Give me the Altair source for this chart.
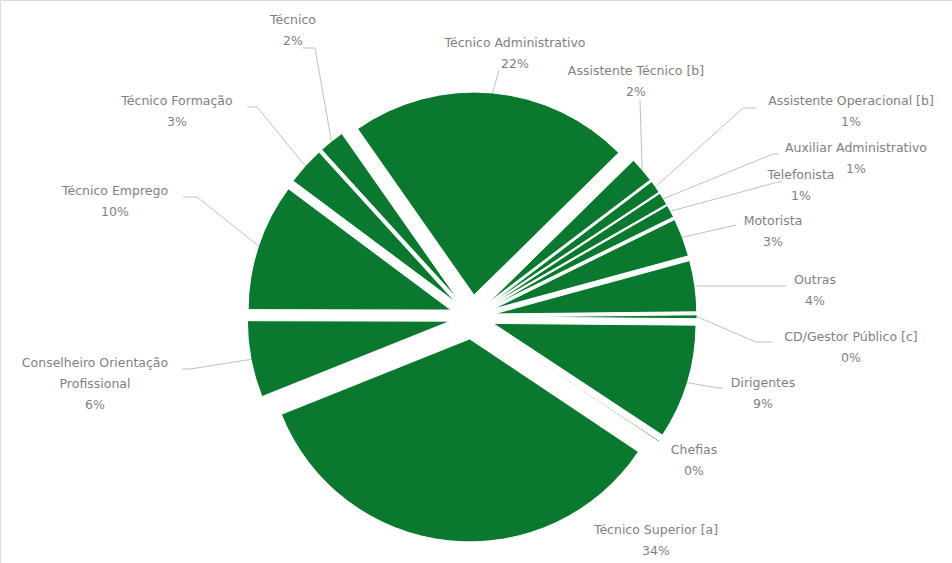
import math
import altair as alt
import pandas as pd

# ---- data (clockwise from the top) ----
categories = [
    "Técnico Administrativo", "Assistente Técnico [b]", "Assistente Operacional [b]",
    "Auxiliar Administrativo", "Telefonista", "Motorista", "Outras",
    "CD/Gestor Público [c]", "Dirigentes", "Chefias", "Técnico Superior [a]",
    "Conselheiro Orientação Profissional", "Técnico Emprego", "Técnico Formação", "Técnico",
]
label_names = [
    "Técnico Administrativo", "Assistente Técnico [b]", "Assistente Operacional [b]",
    "Auxiliar Administrativo", "Telefonista", "Motorista", "Outras",
    "CD/Gestor Público [c]", "Dirigentes", "Chefias", "Técnico Superior [a]",
    "Conselheiro Orientação\nProfissional", "Técnico Emprego", "Técnico Formação", "Técnico",
]
shares = [22, 2, 1, 1, 1, 3, 4, 0.3, 9, 0.1, 34, 6, 10, 3, 2]
pct_labels = ["22%", "2%", "1%", "1%", "1%", "3%", "4%", "0%", "9%", "0%", "34%", "6%", "10%", "3%", "2%"]

# ---- layout / style ----
W, H = 952, 563
CX, CY = 472, 317          # pie centre (pixels, identity scales)
RADIUS = 203
EXPLODE = 22
START_DEG = -35
GREEN = "#0a782e"
TEXT_GRAY = "#7f7f7f"
LINE_GRAY = "#c0c0c0"

# first-line centre of label (tx, ty), leader elbow (bx, by), horizontal hook length
LABEL_LAYOUT = {
    "Técnico Administrativo": (515, 43, 499, 70, 0),
    "Assistente Técnico [b]": (636, 71, 640, 100, 0),
    "Assistente Operacional [b]": (851, 101, 743, 108, 13),
    "Auxiliar Administrativo": (856, 148, 773, 154, 6),
    "Telefonista": (801, 175, 778, 182, 4),
    "Motorista": (773, 221, 736, 225, 0),
    "Outras": (815, 280, 786, 286, 0),
    "CD/Gestor Público [c]": (851, 337, 756, 342, 16),
    "Dirigentes": (763, 383, 718, 388, 5),
    "Chefias": (694, 450, None, None, 0),
    "Técnico Superior [a]": (656, 530, None, None, 0),
    "Conselheiro Orientação Profissional": (95, 363, 190, 369, -8),
    "Técnico Emprego": (115, 191, 197, 197, -14),
    "Técnico Formação": (177, 101, 257, 107, -10),
    "Técnico": (293, 20, 315, 48, -12),
}

total = sum(shares)
rows = []
cum = 0.0
for cat, name, v, pct in zip(categories, label_names, shares, pct_labels):
    t0, t1 = cum, cum + v
    cum = t1
    mid = math.radians(START_DEG) + 2 * math.pi * (t0 + t1) / 2 / total
    sx_, sy_ = math.sin(mid), -math.cos(mid)
    tx, ty, bx, by, hook = LABEL_LAYOUT[cat]
    has = bx is not None
    rows.append(dict(
        cat=cat, share=v, t0=t0, t1=t1,
        cx=CX + EXPLODE * sx_, cy=CY + EXPLODE * sy_,
        sx=CX + (EXPLODE + RADIUS) * sx_, sy=CY + (EXPLODE + RADIUS) * sy_,
        bx=bx if has else 0, by=by if has else 0,
        hx=(bx + hook) if has else 0, has_leader=has, has_hook=has and hook != 0,
        label=name + "\n" + pct, tx=tx, ty=ty,
    ))
df = pd.DataFrame(rows)

xs = alt.Scale(domain=[0, W], nice=False, zero=False)
ys = alt.Scale(domain=[0, H], nice=False, zero=False, reverse=True)
a0 = math.radians(START_DEG)

base = alt.Chart(df)

arcs = base.mark_arc(radius=RADIUS, stroke="white", strokeWidth=1).encode(
    theta=alt.Theta("t0:Q", scale=alt.Scale(domain=[0, total], range=[a0, a0 + 2 * math.pi])),
    theta2="t1:Q",
    x=alt.X("cx:Q", scale=xs, axis=None),
    y=alt.Y("cy:Q", scale=ys, axis=None),
    color=alt.value(GREEN),
    order=alt.Order("t0:Q"),
)

lead1 = base.transform_filter("datum.has_leader").mark_rule(color=LINE_GRAY, strokeWidth=1).encode(
    x=alt.X("sx:Q", scale=xs, axis=None),
    y=alt.Y("sy:Q", scale=ys, axis=None),
    x2="bx:Q",
    y2="by:Q",
)

lead2 = base.transform_filter("datum.has_hook").mark_rule(color=LINE_GRAY, strokeWidth=1).encode(
    x=alt.X("bx:Q", scale=xs, axis=None),
    y=alt.Y("by:Q", scale=ys, axis=None),
    x2="hx:Q",
    y2="by:Q",
)

texts = base.mark_text(
    font="DejaVu Sans", fontSize=12.5, color=TEXT_GRAY, lineBreak="\n",
    lineHeight=21, align="center", baseline="middle",
).encode(
    x=alt.X("tx:Q", scale=xs, axis=None),
    y=alt.Y("ty:Q", scale=ys, axis=None),
    text="label:N",
)

chart = alt.layer(arcs, lead1, lead2, texts).properties(
    width=W, height=H, autosize=alt.AutoSizeParams(type="none"), padding=0,
).configure_view(stroke=None).configure(background="white")

chart.save("out.html", embed_options={"renderer": "svg", "actions": False})
